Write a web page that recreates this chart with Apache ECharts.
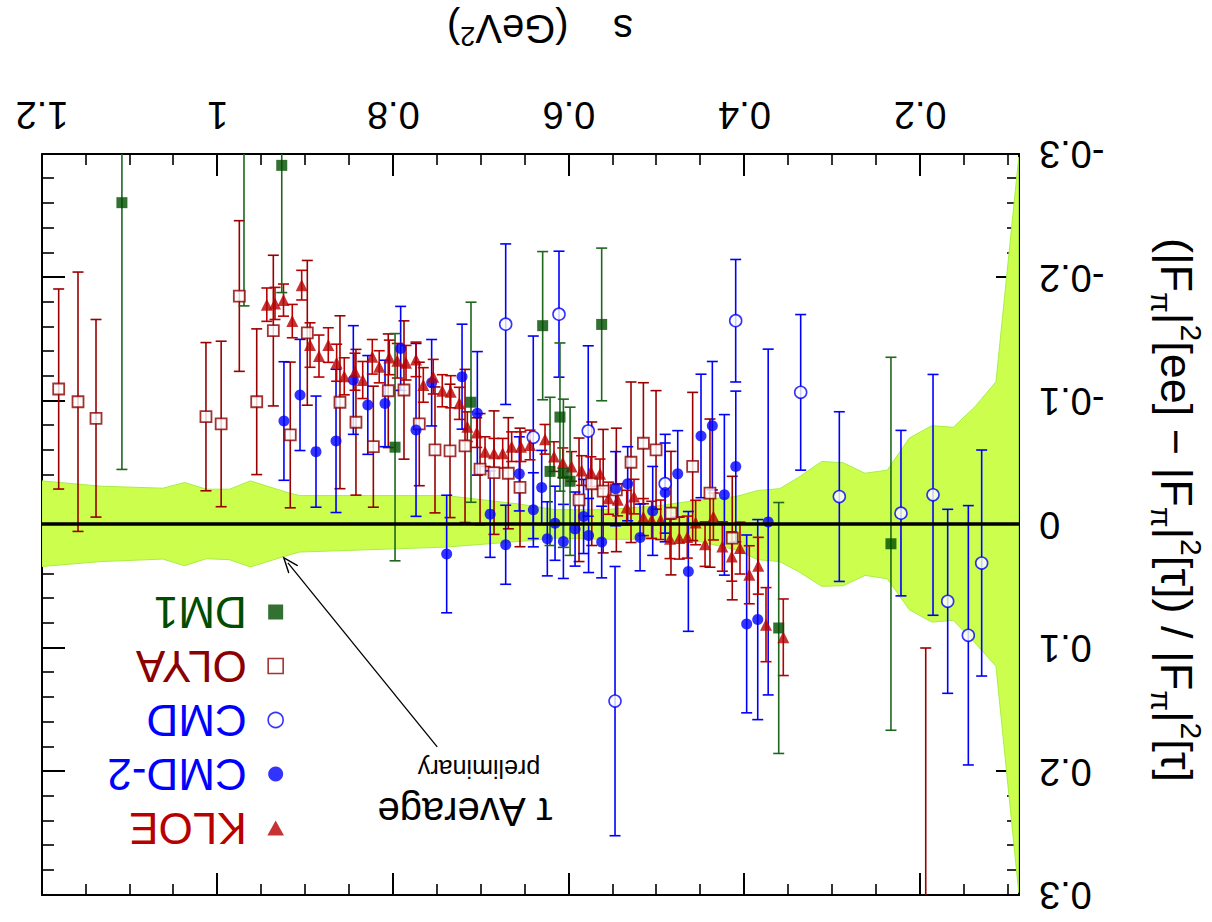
<!DOCTYPE html>
<html><head><meta charset="utf-8">
<script src="https://cdn.jsdelivr.net/npm/echarts@6/dist/echarts.min.js"></script>
<style>
html,body{margin:0;padding:0;background:#fff;}
#chart{width:1212px;height:922px;transform:rotate(180deg);transform-origin:50% 50%;}
</style></head>
<body><div id="chart"></div>
<script>
// ---- data: [s (GeV^2), relative difference, error] ----
const kloe = [
 [0.944,-0.178,0.0135],[0.9347,-0.179,0.013],[0.925,-0.1817,0.013],[0.915,-0.1647,0.0135],[0.9043,-0.1938,0.012],
 [0.8948,-0.1453,0.018],[0.8846,-0.1364,0.017],[0.874,-0.1453,0.014],[0.8645,-0.131,0.015],[0.8558,-0.120,0.015],
 [0.8436,-0.1237,0.015],[0.8348,-0.117,0.015],[0.8239,-0.1358,0.014],[0.816,-0.1277,0.013],[0.8045,-0.1353,0.014],
 [0.7954,-0.1326,0.014],[0.7855,-0.131,0.014],[0.7741,-0.1337,0.014],[0.7658,-0.113,0.014],[0.7545,-0.1197,0.014],
 [0.7442,-0.1083,0.013],[0.7346,-0.1075,0.013],[0.7248,-0.0981,0.013],[0.7157,-0.0792,0.012],[0.705,-0.0744,0.012],
 [0.6955,-0.059,0.012],[0.6853,-0.0577,0.012],[0.6754,-0.0577,0.012],[0.6652,-0.063,0.012],[0.6546,-0.063,0.012],
 [0.6443,-0.0644,0.012],[0.6272,-0.069,0.012],[0.617,-0.055,0.012],[0.607,-0.05,0.012],[0.597,-0.047,0.012],
 [0.5855,-0.0437,0.012],[0.575,-0.0428,0.012],[0.5646,-0.041,0.012],[0.555,-0.0213,0.013],[0.5445,-0.020,0.013],
 [0.5342,-0.0137,0.014],[0.5259,-0.0226,0.014],[0.5152,-0.006,0.015],[0.5058,-0.0038,0.015],[0.4955,-0.0038,0.016],
 [0.4849,0.0116,0.016],[0.4743,0.011,0.017],[0.4652,0.0102,0.017],[0.4557,-0.0016,0.018],[0.445,0.0159,0.018],
 [0.4355,-0.0065,0.019],[0.4253,0.0178,0.02],[0.4146,0.0259,0.02],[0.4052,0.0191,0.021],[0.3946,0.0407,0.0235],
 [0.3844,0.0334,0.023],[0.3756,0.0811,0.03],[0.3559,0.0913,0.031]
];
const cmd2 = [
 [0.9245,-0.0838,0.048],[0.9062,-0.1049,0.045],[0.888,-0.059,0.045],[0.8652,-0.0677,0.058],[0.8455,-0.117,0.044],
 [0.829,-0.0968,0.040],[0.8094,-0.098,0.035],[0.7916,-0.1426,0.034],[0.7741,-0.0766,0.07],[0.7563,-0.1148,0.035],
 [0.7392,0.0239,0.0476],[0.7217,-0.1197,0.0425],[0.7043,-0.090,0.05],[0.6897,-0.0084,0.035],[0.672,0.0164,0.032],
 [0.6565,-0.041,0.03],[0.6405,-0.0119,0.03],[0.631,-0.030,0.03],[0.6246,0.0116,0.03],[0.6158,-0.001,0.03],
 [0.6063,0.0137,0.03],[0.593,0.0037,0.03],[0.5833,-0.0065,0.03],[0.5776,0.0089,0.03],[0.5627,0.0142,0.029],
 [0.5468,-0.029,0.03],[0.5331,-0.033,0.03],[0.519,0.0105,0.027],[0.5046,-0.011,0.036],[0.4904,-0.026,0.04],
 [0.4761,-0.041,0.035],[0.464,0.038,0.0485],[0.4496,-0.0717,0.05],[0.4367,-0.080,0.052],[0.423,-0.024,0.065],
 [0.41,-0.047,0.061],[0.3976,0.0805,0.072],[0.385,0.077,0.081],[0.3731,-0.002,0.14]
];
const cmd = [
 [0.672,-0.1622,0.065],[0.6406,-0.0706,0.082],[0.6113,-0.1703,0.051],[0.578,-0.0757,0.069],[0.5475,0.143,0.109],
 [0.4904,-0.033,0.04],[0.4101,-0.165,0.0496],[0.3361,-0.107,0.063],[0.2921,-0.0226,0.0687],[0.2219,-0.0092,0.067],
 [0.1854,-0.024,0.0975],[0.1687,0.0622,0.0745],[0.1452,0.0897,0.105],[0.130,0.0312,0.0915]
];
const olya = [
 [1.181,-0.1097,0.081],[1.159,-0.0994,0.105],[1.1385,-0.086,0.08],[1.0133,-0.0873,0.06],[0.996,-0.0814,0.067],
 [0.9753,-0.185,0.061],[0.9555,-0.0994,0.059],[0.9366,-0.157,0.061],[0.9173,-0.0725,0.059],[0.8979,-0.1552,0.0586],
 [0.8607,-0.099,0.07],[0.8425,-0.0828,0.059],[0.8227,-0.063,0.049],[0.8057,-0.1083,0.046],[0.7878,-0.1089,0.056],
 [0.7704,-0.0814,0.05],[0.7525,-0.0604,0.051],[0.7354,-0.0596,0.054],[0.7183,-0.0636,0.062],[0.7012,-0.0448,0.045],
 [0.6853,-0.042,0.05],[0.669,-0.0415,0.045],[0.6557,-0.030,0.048],[0.5885,-0.020,0.05],[0.574,-0.033,0.05],
 [0.561,-0.027,0.05],[0.546,-0.028,0.05],[0.5293,-0.0504,0.065],[0.5152,-0.0658,0.049],[0.5008,-0.0604,0.048],
 [0.4838,-0.0092,0.05],[0.4591,-0.047,0.06],[0.4394,-0.0254,0.06],[0.414,0.011,0.05],[0.1937,0.40,0.30]
];
const dm1 = [
 [1.109,-0.2606,0.216],[0.970,-0.40,0.223],[0.927,-0.2908,0.103],[0.798,-0.0626,0.092],[0.7115,-0.099,0.081],
 [0.6299,-0.161,0.06],[0.6215,-0.043,0.06],[0.6102,-0.087,0.06],[0.6063,-0.0415,0.06],[0.5987,-0.035,0.06],
 [0.5627,-0.162,0.0618],[0.3611,0.0838,0.1016],[0.2333,0.0156,0.151]
];
// tau average band: s, lower edge, upper edge
const bandS    = [0.0878,0.1137,0.1376,0.1623,0.1869,0.2124,0.2375,0.2629,0.2876,0.3122,0.3388,0.36,0.385,0.41,0.45,0.50,0.56,0.615,0.656,0.74,0.9066,0.918,0.9628,0.9864,1.0129,1.0376,1.0623,1.1325,1.2];
const bandLow  = [-0.2975,-0.1156,-0.0954,-0.0787,-0.080,-0.070,-0.044,-0.0415,-0.050,-0.051,-0.038,-0.029,-0.0275,-0.0226,-0.020,-0.015,-0.012,-0.012,-0.0165,-0.0234,-0.0234,-0.0254,-0.0353,-0.0286,-0.0286,-0.034,-0.0294,-0.031,-0.0353];
const bandHigh = [0.298,0.1148,0.0959,0.0776,0.079,0.069,0.0439,0.0412,0.0496,0.050,0.038,0.030,0.0285,0.0205,0.014,0.012,0.012,0.011,0.0137,0.0183,0.0223,0.0245,0.0344,0.0285,0.0277,0.0334,0.028,0.030,0.034];
const arrowTail = [0.750, 0.180];
const arrowTip  = [0.920, 0.031];
const xRange = [0.0875, 1.2];
const yRange = [-0.3, 0.3];

const FONT = '"Liberation Sans", Arial, sans-serif';
const C = {kloe:'#b80000', cmd:'#0000ff', olya:'#8b0000', dm1:'#004d00', dm1bar:'#1f661f', band:'#ccff4d'};
const SQUARE = 'path://M0,0 L10,0 L10,10 L0,10 Z';
const TRI_DOWN = 'path://M0,0 L10,0 L5,9 Z';

function errSeries(name, data, color){
  return {
    name: name + ' err', type:'custom', data: data, clip:true, encode:{x:0,y:1}, z:3,
    renderItem: function(params, api){
      const x = api.value(0), y = api.value(1), e = api.value(2);
      const a = api.coord([x, y + e]), b = api.coord([x, y - e]);
      const w = 5.5, st = {stroke: color, lineWidth: 1.6};
      return {type:'group', children:[
        {type:'line', shape:{x1:a[0],y1:a[1],x2:b[0],y2:b[1]}, style:st},
        {type:'line', shape:{x1:a[0]-w,y1:a[1],x2:a[0]+w,y2:a[1]}, style:st},
        {type:'line', shape:{x1:b[0]-w,y1:b[1],x2:b[0]+w,y2:b[1]}, style:st}
      ]};
    }
  };
}
function ptSeries(name, data, symbol, size, itemStyle, rot){
  return {name:name, type:'scatter', data:data.map(d=>[d[0],d[1]]), symbol:symbol, symbolSize:size,
          symbolRotate:rot || 0, itemStyle:itemStyle, clip:true, z:4, emphasis:{disabled:true}};
}

const chart = echarts.init(document.getElementById('chart'), null, {renderer:'svg'});
const axisCommonX = {
  type:'value', min:xRange[0], max:xRange[1],
  axisLine:{show:true, onZero:false, lineStyle:{color:'#000', width:2}},
  axisTick:{show:true, inside:true, length:22, lineStyle:{color:'#000', width:2}},
  minorTick:{show:true, splitNumber:4, length:11, lineStyle:{color:'#000', width:1.6}},
  splitLine:{show:false}
};
const axisCommonY = {
  type:'value', min:yRange[0], max:yRange[1], interval:0.1,
  axisLine:{show:true, onZero:false, lineStyle:{color:'#000', width:2}},
  axisTick:{show:true, inside:true, length:23, lineStyle:{color:'#000', width:2}},
  minorTick:{show:true, splitNumber:5, length:12, lineStyle:{color:'#000', width:1.6}},
  splitLine:{show:false}
};

const option = {
  backgroundColor:'#fff',
  animation:false,
  grid:{left:193, right:42, top:27, bottom:154, containLabel:false},
  xAxis:[
    Object.assign({}, axisCommonX, {position:'bottom',
      axisLabel:{show:true, showMinLabel:false, fontSize:38, color:'#000', margin:20, fontFamily:FONT}}),
    Object.assign({}, axisCommonX, {position:'top', axisLabel:{show:false}})
  ],
  yAxis:[
    Object.assign({}, axisCommonY, {position:'left',
      axisLabel:{show:true, fontSize:38, color:'#000', margin:20, fontFamily:FONT}}),
    Object.assign({}, axisCommonY, {position:'right', axisLabel:{show:false}})
  ],
  legend:{
    orient:'vertical', left:923, top:67, itemWidth:48, itemHeight:15, itemGap:10,
    symbolKeepAspect:true, selectedMode:false, textStyle:{fontSize:44, fontFamily:FONT},
    data:[
      {name:'KLOE', icon:TRI_DOWN, itemStyle:{color:C.kloe}, textStyle:{color:C.kloe}},
      {name:'CMD-2', icon:'circle', itemStyle:{color:C.cmd}, textStyle:{color:C.cmd}},
      {name:'CMD', icon:'circle', itemStyle:{color:'#fff', borderColor:C.cmd, borderWidth:1.6}, textStyle:{color:C.cmd}},
      {name:'OLYA', icon:SQUARE, itemStyle:{color:'#fff', borderColor:C.olya, borderWidth:1.6}, textStyle:{color:C.olya}},
      {name:'DM1', icon:SQUARE, itemStyle:{color:C.dm1}, textStyle:{color:C.dm1}}
    ]
  },
  graphic:[
    {type:'text', x:747, y:110, style:{text:'τ Average', font:'40px '+FONT, fill:'#000', align:'center', verticalAlign:'middle', textAlign:'center', textVerticalAlign:'middle'}},
    {type:'text', x:733, y:153, style:{text:'preliminary', font:'25px '+FONT, fill:'#000', align:'center', verticalAlign:'middle', textAlign:'center', textVerticalAlign:'middle'}},
    {type:'text', x:672, y:893, style:{
      text:'s    (GeV{sup|2})', font:'40px '+FONT, fill:'#000', align:'center', verticalAlign:'middle', textAlign:'center', textVerticalAlign:'middle',
      rich:{sup:{fontSize:27, fontFamily:FONT, verticalAlign:'top', lineHeight:26}}}},
    {type:'text', x:36, y:412, rotation:Math.PI/2, style:{
      text:'(|F{sub|π}|{sup|2}[ee] − |F{sub|π}|{sup|2}[τ]) / |F{sub|π}|{sup|2}[τ]',
      font:'45px '+FONT, fill:'#000', align:'center', verticalAlign:'middle', textAlign:'center', textVerticalAlign:'middle',
      lineHeight:60,
      rich:{sup:{fontSize:30, fontFamily:FONT, verticalAlign:'top', lineHeight:29},
            sub:{fontSize:30, fontFamily:FONT, verticalAlign:'bottom', lineHeight:29}}}}
  ],
  series:[
    {name:'band', type:'custom', data:bandS.map((s,i)=>[s, bandLow[i], bandHigh[i]]), clip:true, z:1,
     encode:{x:0, y:[1,2]},
     renderItem:function(params, api){
       if (params.dataIndex !== 0) return null;
       const pts = [];
       for (let i=0;i<bandS.length;i++) pts.push(api.coord([bandS[i], bandHigh[i]]));
       for (let i=bandS.length-1;i>=0;i--) pts.push(api.coord([bandS[i], bandLow[i]]));
       return {type:'polygon', shape:{points:pts}, style:{fill:C.band, stroke:'#a8ee44', lineWidth:1}};
     },
     markLine:{silent:true, symbol:['none','none'], label:{show:false}, animation:false,
       data:[
         {yAxis:0, lineStyle:{color:'#000', width:3.5, type:'solid'}},
         [{coord:arrowTail, symbol:'none', lineStyle:{color:'#000', width:1.3, type:'solid'}},
          {coord:arrowTip, symbol:'path://M5,0 L10,13 L8.8,13 L5,3 L1.2,13 L0,13 Z', symbolSize:[13,17]}]
       ]}
    },
    errSeries('OLYA', olya, '#990000'),
    ptSeries('OLYA', olya, 'rect', 11, {color:'#fff', borderColor:C.olya, borderWidth:1.8}),
    errSeries('CMD', cmd, C.cmd),
    ptSeries('CMD', cmd, 'circle', 12, {color:'#fff', borderColor:C.cmd, borderWidth:1.6}),
    errSeries('CMD-2', cmd2, C.cmd),
    ptSeries('CMD-2', cmd2, 'circle', 11, {color:C.cmd}),
    errSeries('KLOE', kloe, C.kloe),
    ptSeries('KLOE', kloe, 'triangle', 12, {color:C.kloe}, 180),
    errSeries('DM1', dm1, C.dm1bar),
    ptSeries('DM1', dm1, 'rect', 11, {color:C.dm1})
  ]
};
chart.setOption(option);
</script>
</body></html>
